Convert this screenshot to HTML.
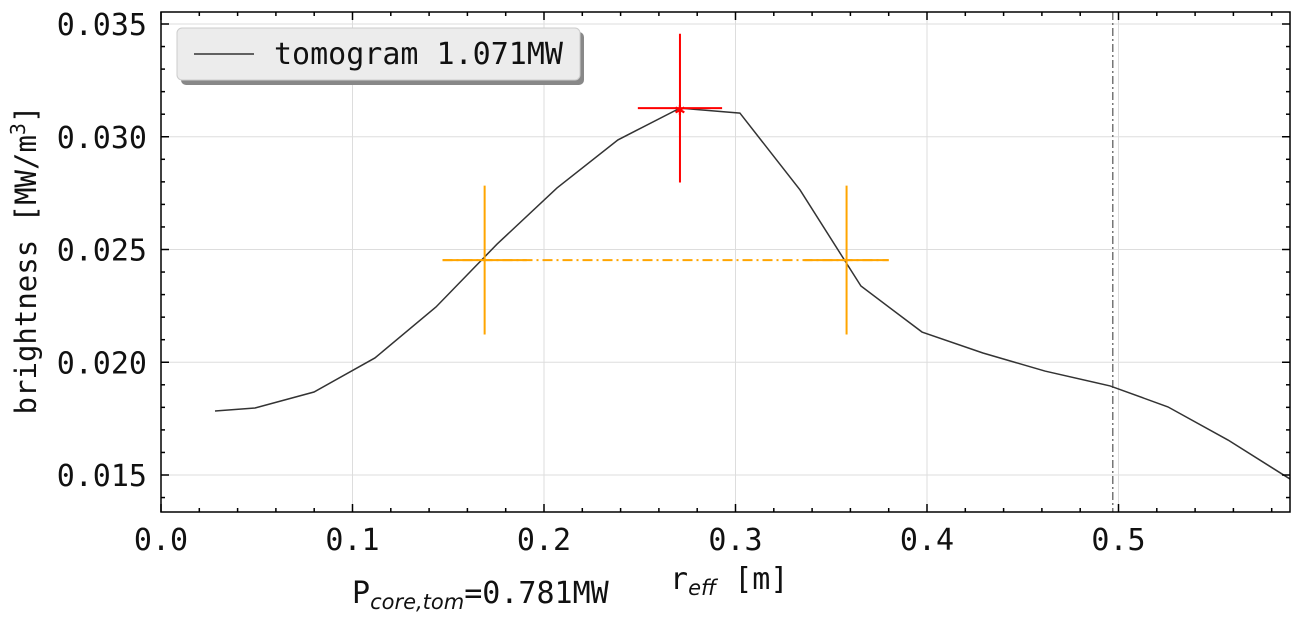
<!DOCTYPE html>
<html><head><meta charset="utf-8"><style>
body{margin:0;background:#fff;}
svg{display:block;font-family:"DejaVu Sans Mono","Liberation Mono",monospace;}
</style></head><body>
<svg id="chart" width="1302" height="620" xmlns="http://www.w3.org/2000/svg">
<g id="grid"></g>
<g id="plot"></g>
<g id="axes"></g>
<g>
<rect x="181" y="32" width="403" height="53" rx="5" fill="#888"/>
<rect x="177" y="28" width="403" height="52" rx="5" fill="#ececec" stroke="#ccc"/>
<line x1="194" y1="54" x2="254" y2="54" stroke="#333" stroke-width="1.5"/>
<text x="274" y="64" font-size="30" fill="#111">tomogram 1.071MW</text>
</g>
<text x="36" y="260" font-size="29" fill="#111" text-anchor="middle" transform="rotate(-90 36 260)">brightness [MW/m<tspan dy="-11" font-size="20">3</tspan><tspan dy="11">]</tspan></text>
<text x="670" y="589" font-size="30" fill="#111">r<tspan dy="6" font-size="21" font-style="italic" font-family="DejaVu Sans">eff</tspan><tspan dy="-6"> [m]</tspan></text>
<text x="352" y="603" font-size="30" fill="#111">P<tspan dy="6" font-size="21" font-style="italic" font-family="DejaVu Sans">core,tom</tspan><tspan dy="-6">=0.781MW</tspan></text>
</svg>
<script>
const rEff=[0.0282,0.0491,0.0799,0.1117,0.1436,0.1755,0.2068,0.2386,0.2710,0.3023,0.3337,0.3655,0.3974,0.4292,0.4616,0.4956,0.5258,0.5572,0.5896];
const brightness=[0.01784,0.01797,0.01868,0.02019,0.02245,0.02524,0.02773,0.02986,0.03127,0.03105,0.02764,0.02338,0.02134,0.02041,0.01961,0.01895,0.01802,0.01655,0.01482];
const peakPoint=[0.2710,0.03127];const peakErr=[0.022,0.0033];
const halfLevel=[0.02453];const halfX=[0.1690,0.3580];const halfErrY=0.0033;const halfErrX=0.022;
const vline=[0.4970];
const xTicks=[0.0,0.1,0.2,0.3,0.4,0.5];const yTicks=[0.015,0.020,0.025,0.030,0.035];
const X0=161,X1=1290,Y0=12,Y1=512;
const sx=v=>161+v*1915, sy=v=>475-(v-0.015)*22550;
const NS="http://www.w3.org/2000/svg";
function mk(p,t,a){const e=document.createElementNS(NS,t);for(const k in a)e.setAttribute(k,a[k]);document.getElementById(p).appendChild(e);return e;}
xTicks.forEach(t=>{const g=mk('grid','line',{x1:sx(t),x2:sx(t),y1:Y0,y2:Y1,stroke:'#ddd'});


const l=mk('axes','text',{x:sx(t),y:550,'font-size':30,'text-anchor':'middle',fill:'#111'});l.textContent=t.toFixed(1);

});
yTicks.forEach(t=>{const g=mk('grid','line',{x1:X0,x2:X1,y1:sy(t),y2:sy(t),stroke:'#ddd'});


const l=mk('axes','text',{x:147,y:sy(t)+11,'font-size':30,'text-anchor':'end',fill:'#111'});l.textContent=t.toFixed(3);

});
for(let v=0;v<=0.59;v+=0.02){const L=Math.abs(v*10-Math.round(v*10))<1e-6?8:4;
mk('axes','line',{x1:sx(v),x2:sx(v),y1:Y1,y2:Y1-L,stroke:'#000','stroke-width':1.5});mk('axes','line',{x1:sx(v),x2:sx(v),y1:Y0,y2:Y0+L,stroke:'#000','stroke-width':1.5});}
for(let i=14;i<=35;i++){const v=i/1000;const L=i%5==0?8:4;if(sy(v)<Y0||sy(v)>Y1)continue;
mk('axes','line',{x1:X0,x2:X0+L,y1:sy(v),y2:sy(v),stroke:'#000','stroke-width':1.5});mk('axes','line',{x1:X1,x2:X1-L,y1:sy(v),y2:sy(v),stroke:'#000','stroke-width':1.5});}
const fr=mk('axes','rect',{x:X0,y:Y0,width:X1-X0,height:Y1-Y0,fill:'none',stroke:'#000','stroke-width':1.5});


const vl=mk('plot','line',{x1:sx(vline[0]),x2:sx(vline[0]),y1:Y0,y2:Y1,stroke:'#777','stroke-width':1.5,'stroke-dasharray':'8 3 2 3'});


const pl=mk('plot','polyline',{points:rEff.map((r,i)=>sx(r)+','+sy(brightness[i])).join(' '),fill:'none',stroke:'#333','stroke-width':1.5});


const hl=mk('plot','line',{x1:sx(halfX[0]-halfErrX),x2:sx(halfX[1]+halfErrX),y1:sy(halfLevel[0]),y2:sy(halfLevel[0]),stroke:'orange','stroke-width':2,'stroke-dasharray':'10 4 2 4'});


halfX.forEach(h=>{const a=mk('plot','line',{x1:sx(h-halfErrX),x2:sx(h+halfErrX),y1:sy(halfLevel[0]),y2:sy(halfLevel[0]),stroke:'orange','stroke-width':2});


const b=mk('plot','line',{x1:sx(h),x2:sx(h),y1:sy(halfLevel[0]-halfErrY),y2:sy(halfLevel[0]+halfErrY),stroke:'orange','stroke-width':2});

});
const ex=mk('plot','line',{x1:sx(peakPoint[0]-peakErr[0]),x2:sx(peakPoint[0]+peakErr[0]),y1:sy(peakPoint[1]),y2:sy(peakPoint[1]),stroke:'red','stroke-width':2});


const ey=mk('plot','line',{x1:sx(peakPoint[0]),x2:sx(peakPoint[0]),y1:sy(peakPoint[1]-peakErr[1]),y2:sy(peakPoint[1]+peakErr[1]),stroke:'red','stroke-width':2});


const pm=mk('plot','text',{x:sx(peakPoint[0]),y:sy(peakPoint[1])+7,'font-size':18,'text-anchor':'middle',fill:'red'});pm.textContent='✱';


</script>
</body></html>
